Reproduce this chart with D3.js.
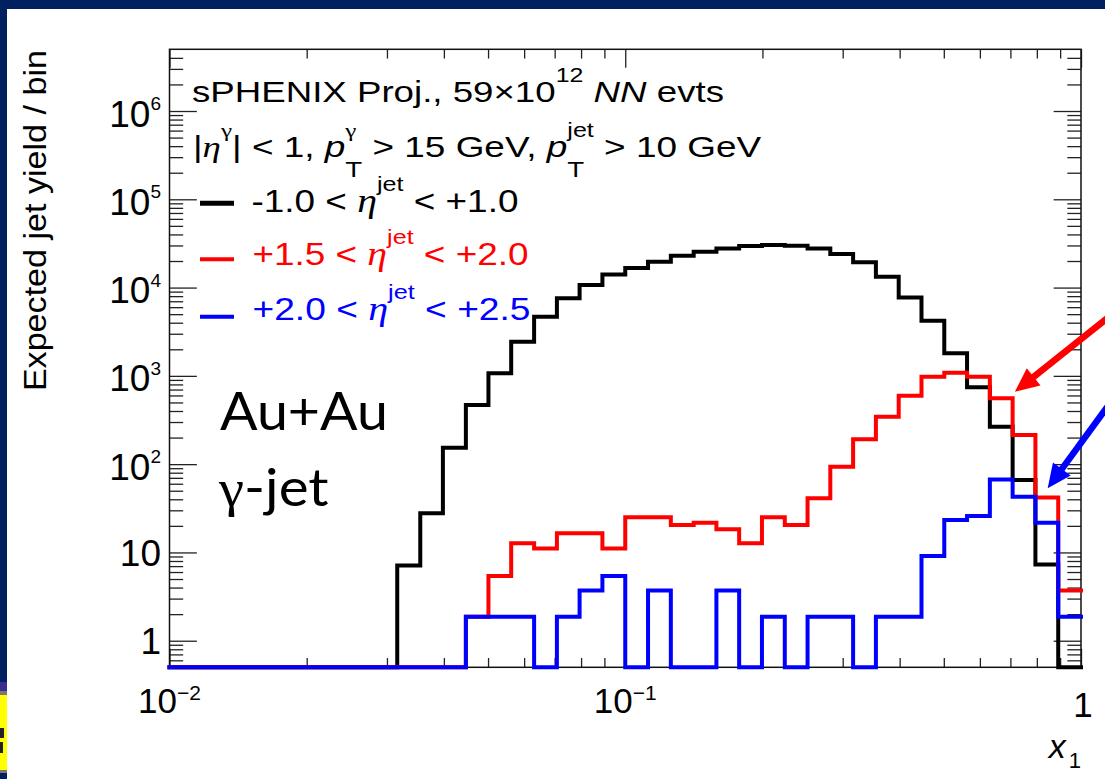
<!DOCTYPE html>
<html>
<head>
<meta charset="utf-8">
<script src="https://cdn.jsdelivr.net/npm/d3@7"></script>
<style>
  html, body { margin: 0; padding: 0; background: #ffffff; }
  svg { display: block; }
</style>
</head>
<body>
<svg id="chart" width="1105" height="779"></svg>
<script>
// ---------------------------------------------------------------------------
// Binning in x1 (log-spaced, 40 bins from 0.01 to 1)
const binEdges = [
  0.0100, 0.0112, 0.0126, 0.0141, 0.0158, 0.0178, 0.0200, 0.0224, 0.0251, 0.0282,
  0.0316, 0.0355, 0.0398, 0.0447, 0.0501, 0.0562, 0.0631, 0.0708, 0.0794, 0.0891,
  0.1000, 0.1122, 0.1259, 0.1413, 0.1585, 0.1778, 0.1995, 0.2239, 0.2512, 0.2818,
  0.3162, 0.3548, 0.3981, 0.4467, 0.5012, 0.5623, 0.6310, 0.7079, 0.7943, 0.8913,
  1.0000
];

// Expected jet yield per bin, -1.0 < eta_jet < +1.0
const yieldMid = [
  0, 0, 0, 0, 0, 0, 0, 0, 0, 0,
  7.1, 27.7, 153, 467, 1070, 2430, 4670, 7550, 10700, 14100,
  16700, 19600, 22900, 25400, 27800, 29500, 30300, 29700, 27800, 24000,
  19300, 13250, 7740, 4210, 1800, 741, 265, 66, 7.3, 0
];

// Expected jet yield per bin, +1.5 < eta_jet < +2.0
const yieldFwd = [
  0, 0, 0, 0, 0, 0, 0, 0, 0, 0,
  0, 0, 0, 1.87, 5.4, 12.7, 11.1, 16.5, 16.5, 11.1,
  25, 25, 20.4, 21.7, 18.3, 12.7, 25, 20.4, 41, 93.5,
  192, 344, 595, 977, 1084, 977, 556, 214, 42, 3.7
];

// Expected jet yield per bin, +2.0 < eta_jet < +2.5
const yieldFar = [
  0, 0, 0, 0, 0, 0, 0, 0, 0, 0,
  0, 0, 0, 1.87, 1.87, 1.87, 0, 1.87, 3.7, 5.4,
  0, 3.7, 0, 0, 3.7, 0, 1.87, 0, 1.87, 1.87,
  0, 1.87, 1.87, 9.1, 23.3, 25.8, 67, 42.8, 21.7, 1.87
];

// Axis ticks and labels
const yMajorTicks = [1, 10, 100, 1e3, 1e4, 1e5, 1e6];
const yTickLabels = [
  { v: 1, base: "1", exp: "" },
  { v: 10, base: "10", exp: "" },
  { v: 100, base: "10", exp: "2" },
  { v: 1e3, base: "10", exp: "3" },
  { v: 1e4, base: "10", exp: "4" },
  { v: 1e5, base: "10", exp: "5" },
  { v: 1e6, base: "10", exp: "6" }
];
const xMajorTicks = [0.01, 0.1, 1];
const xTickLabels = [
  { v: 0.01, base: "10", exp: "\u22122" },
  { v: 0.1, base: "10", exp: "\u22121" },
  { v: 1, base: "1", exp: "" }
];
const minorMultipliers = [2, 3, 4, 5, 6, 7, 8, 9];

const seriesNames = ["-1.0", "+1.5", "+2.0"];
const seriesUpper = ["+1.0", "+2.0", "+2.5"];
const seriesColors = ["#000000", "#ff0000", "#0000ff"];

// ---------------------------------------------------------------------------
const SANS = "'Liberation Sans', Arial, Helvetica, sans-serif";
const SERIF = "'Liberation Serif', 'Times New Roman', serif";
const SLIDE = "Lato, 'Open Sans', sans-serif";

const svg = d3.select("#chart");
const W = 1105, H = 779;

// slide background
svg.append("rect").attr("x", 0).attr("y", 0).attr("width", W).attr("height", H).attr("fill", "#002060");
svg.append("rect").attr("x", 7).attr("y", 9).attr("width", W - 7).attr("height", H - 9).attr("fill", "#ffffff");
// corner of a neighbouring logo at the lower left edge
const corner = svg.append("g");
corner.append("rect").attr("x", 0).attr("y", 682).attr("width", 7).attr("height", 9).attr("fill", "#3a2d8f");
corner.append("rect").attr("x", 0).attr("y", 691).attr("width", 7).attr("height", 4).attr("fill", "#7a7a6a");
corner.append("rect").attr("x", 0).attr("y", 695).attr("width", 7).attr("height", 75).attr("fill", "#ffff00");
corner.append("rect").attr("x", 0).attr("y", 770).attr("width", 7).attr("height", 3).attr("fill", "#7a7a6a");
corner.append("rect").attr("x", 0).attr("y", 728).attr("width", 4).attr("height", 10).attr("fill", "#222");
corner.append("rect").attr("x", 0).attr("y", 742).attr("width", 3).attr("height", 11).attr("fill", "#222");

// plot frame
const frame = { left: 169.5, right: 1081, top: 49.3, bottom: 667.3 };
const yMin = 0.5, yMax = 5e6;
const x = d3.scaleLog().domain([0.01, 1]).range([frame.left, frame.right]);
const y = d3.scaleLog().domain([yMin, yMax]).range([frame.bottom, frame.top]);

const plotW = frame.right - frame.left;
const plotH = frame.bottom - frame.top;
const yTickLen = 0.03 * plotW;
const xTickLen = 0.03 * plotH;

const yMinor = [];
[-1, 0, 1, 2, 3, 4, 5, 6].forEach(k => minorMultipliers.forEach(m => {
  const v = m * Math.pow(10, k);
  if (v > yMin * 1.0001 && v < yMax * 0.9999) yMinor.push(v);
}));
const xMinor = [];
[-2, -1].forEach(k => minorMultipliers.forEach(m => xMinor.push(m * Math.pow(10, k))));

function styleAxis(g) {
  g.select(".domain").remove();
  g.selectAll(".tick line").attr("stroke", "#222").attr("stroke-width", 1.3);
  g.selectAll(".tick text").remove();
}

const axes = svg.append("g");
// left / right
axes.append("g").attr("transform", `translate(${frame.left},0)`)
  .call(d3.axisLeft(y).tickValues(yMajorTicks).tickSize(-yTickLen).tickFormat("")).call(styleAxis);
axes.append("g").attr("transform", `translate(${frame.left},0)`)
  .call(d3.axisLeft(y).tickValues(yMinor).tickSize(-yTickLen / 2).tickFormat("")).call(styleAxis);
axes.append("g").attr("transform", `translate(${frame.right},0)`)
  .call(d3.axisRight(y).tickValues(yMajorTicks).tickSize(-yTickLen).tickFormat("")).call(styleAxis);
axes.append("g").attr("transform", `translate(${frame.right},0)`)
  .call(d3.axisRight(y).tickValues(yMinor).tickSize(-yTickLen / 2).tickFormat("")).call(styleAxis);
// bottom / top
axes.append("g").attr("transform", `translate(0,${frame.bottom})`)
  .call(d3.axisBottom(x).tickValues(xMajorTicks).tickSize(-xTickLen).tickFormat("")).call(styleAxis);
axes.append("g").attr("transform", `translate(0,${frame.bottom})`)
  .call(d3.axisBottom(x).tickValues(xMinor).tickSize(-xTickLen / 2).tickFormat("")).call(styleAxis);
axes.append("g").attr("transform", `translate(0,${frame.top})`)
  .call(d3.axisTop(x).tickValues(xMajorTicks).tickSize(-xTickLen).tickFormat("")).call(styleAxis);
axes.append("g").attr("transform", `translate(0,${frame.top})`)
  .call(d3.axisTop(x).tickValues(xMinor).tickSize(-xTickLen / 2).tickFormat("")).call(styleAxis);

svg.append("rect")
  .attr("x", frame.left).attr("y", frame.top)
  .attr("width", plotW).attr("height", plotH)
  .attr("fill", "none").attr("stroke", "#111").attr("stroke-width", 1.5);

// tick labels
const yLab = svg.append("g").attr("font-family", SANS).attr("fill", "#000");
yTickLabels.forEach(d => {
  const t = yLab.append("text")
    .attr("x", 161).attr("y", y(d.v) + (d.exp ? 15.5 : 13.5))
    .attr("text-anchor", "end").attr("font-size", 37);
  t.append("tspan").text(d.base);
  if (d.exp) t.append("tspan").attr("dy", -16.5).attr("font-size", 19).text(d.exp);
});
const xLab = svg.append("g").attr("font-family", SANS).attr("fill", "#000");
xTickLabels.forEach(d => {
  const t = xLab.append("text")
    .attr("x", x(d.v) + (d.exp ? 0 : 2)).attr("y", d.exp ? 713 : 716.5)
    .attr("text-anchor", "middle").attr("font-size", 35);
  t.append("tspan").text(d.base);
  if (d.exp) t.append("tspan").attr("dy", -13).attr("font-size", 21).text(d.exp);
});

// axis titles
const yTitle = svg.append("g").attr("transform", "translate(45.5,50) rotate(-90)");
yTitle.append("text")
  .attr("x", 0).attr("y", 0).attr("text-anchor", "end")
  .attr("font-family", SANS).attr("font-size", 31)
  .attr("transform", "scale(1.1,1)")
  .text("Expected jet yield / bin");

const xTitle = svg.append("text").attr("x", 1081).attr("y", 758)
  .attr("text-anchor", "end").attr("font-family", SANS).attr("font-size", 34);
xTitle.append("tspan").attr("font-style", "italic").text("x");
xTitle.append("tspan").attr("dy", 10).attr("dx", 3).attr("font-size", 22).text("1");

// ---------------------------------------------------------------------------
// histograms (step outlines)
function stepPoints(vals) {
  const pts = [];
  vals.forEach((v, i) => {
    const vv = Math.max(v, yMin);
    pts.push([binEdges[i], vv], [binEdges[i + 1], vv]);
  });
  return pts;
}
const stepLine = d3.line().x(d => x(d[0])).y(d => y(d[1]));
const hists = svg.append("g");
[yieldMid, yieldFwd, yieldFar].forEach((vals, i) => {
  hists.append("path")
    .attr("d", stepLine(stepPoints(vals)))
    .attr("fill", "none")
    .attr("stroke", seriesColors[i])
    .attr("stroke-width", 4)
    .attr("stroke-linejoin", "miter")
    .attr("stroke-linecap", "square");
});

// ---------------------------------------------------------------------------
// rich text helper: pieces laid out left to right, scripts may stack
function rich(parent, x0, y0, pieces, size, color) {
  const g = parent.append("g");
  let cx = x0, stackW = 0;
  pieces.forEach(p => {
    const fs = size * (p.scale || 1);
    const t = g.append("text")
      .attr("x", cx).attr("y", y0 + (p.dy || 0) * size)
      .attr("font-family", p.serif ? SERIF : SANS)
      .attr("font-style", p.italic ? "italic" : "normal")
      .attr("font-size", fs)
      .attr("fill", color)
      .text(p.t);
    const w = t.node().getComputedTextLength();
    if (p.stack) { stackW = w; }
    else { cx += Math.max(w, stackW); stackW = 0; }
  });
  return g;
}
function fit(g, x0, x1) {
  const b = g.node().getBBox();
  const s = (x1 - x0) / b.width;
  g.attr("transform", `translate(${x0},0) scale(${s},1) translate(${-b.x},0)`);
}
const NB = "\u00A0";
const SUP = { scale: 0.68, dy: -0.68 };
const SUB = { scale: 0.75, dy: 0.68 };

const legend = svg.append("g");
const l1 = rich(legend, 193, 102, [
  { t: "sPHENIX" + NB + "Proj.," + NB + "59\u00D710" },
  Object.assign({ t: "12" }, SUP),
  { t: NB },
  { t: "NN", italic: true },
  { t: NB + "evts" }
], 29, "#000");
fit(l1, 192, 724);

const l2 = rich(legend, 193, 157, [
  { t: "|" },
  { t: "\u03B7", italic: true, serif: true },
  Object.assign({ t: "\u03B3", serif: true }, SUP),
  { t: "|" + NB + "<" + NB + "1," + NB },
  { t: "p", italic: true },
  Object.assign({ t: "\u03B3", serif: true, stack: true }, SUP),
  Object.assign({ t: "T" }, SUB),
  { t: NB + ">" + NB + "15" + NB + "GeV," + NB },
  { t: "p", italic: true },
  Object.assign({ t: "jet", stack: true }, SUP),
  Object.assign({ t: "T" }, SUB),
  { t: NB + ">" + NB + "10" + NB + "GeV" }
], 29, "#000");
fit(l2, 193, 762);

const entryBaselines = [211.7, 265, 320];
const entryLineY = [203.3, 259.3, 316.7];
const entryEnds = [518.5, 528.5, 530.5];
seriesNames.forEach((lo, i) => {
  legend.append("line")
    .attr("x1", 200).attr("x2", 234)
    .attr("y1", entryLineY[i]).attr("y2", entryLineY[i])
    .attr("stroke", seriesColors[i]).attr("stroke-width", i === 0 ? 5 : 4);
  const e = rich(legend, 252, entryBaselines[i], [
    { t: lo + NB + "<" + NB },
    { t: "\u03B7", italic: true, serif: true, scale: 1.08 },
    Object.assign({ t: "jet" }, SUP),
    { t: NB + "<" + NB + seriesUpper[i] }
  ], 31, seriesColors[i]);
  fit(e, i === 0 ? 251.5 : 252.5, entryEnds[i]);
});

// collision system labels
const sys = svg.append("g").attr("fill", "#000");
const s1 = sys.append("g");
s1.append("text").attr("x", 220).attr("y", 430).attr("font-family", SLIDE).attr("font-size", 52).text("Au+Au");
fit(s1, 220, 388);
const s2 = sys.append("g");
const s2t = s2.append("text").attr("x", 218).attr("y", 506.5).attr("font-size", 52);
s2t.append("tspan").attr("font-family", SERIF).text("\u03B3");
s2t.append("tspan").attr("font-family", SLIDE).text("-jet");
fit(s2, 218, 329);

// ---------------------------------------------------------------------------
// arrows pointing at the forward distributions
const arrows = [
  { from: [1.281, 7220], to: [0.716, 660], color: "#ff0000" },
  { from: [1.249, 835], to: [0.845, 53.2], color: "#0000ff" }
];
const arrowG = svg.append("g");
arrows.forEach(a => {
  const x0 = x(a.from[0]), y0 = y(a.from[1]);
  const x1 = x(a.to[0]), y1 = y(a.to[1]);
  const len = Math.hypot(x1 - x0, y1 - y0);
  const ux = (x1 - x0) / len, uy = (y1 - y0) / len;
  const headL = 24, headW = 11;
  const bx = x1 - ux * headL, by = y1 - uy * headL;
  arrowG.append("line")
    .attr("x1", x0).attr("y1", y0).attr("x2", bx + ux * 2).attr("y2", by + uy * 2)
    .attr("stroke", a.color).attr("stroke-width", 6.5);
  arrowG.append("path")
    .attr("d", d3.line()([[x1, y1], [bx - uy * headW, by + ux * headW], [bx + uy * headW, by - ux * headW]]) + "Z")
    .attr("fill", a.color);
});
</script>
</body>
</html>
